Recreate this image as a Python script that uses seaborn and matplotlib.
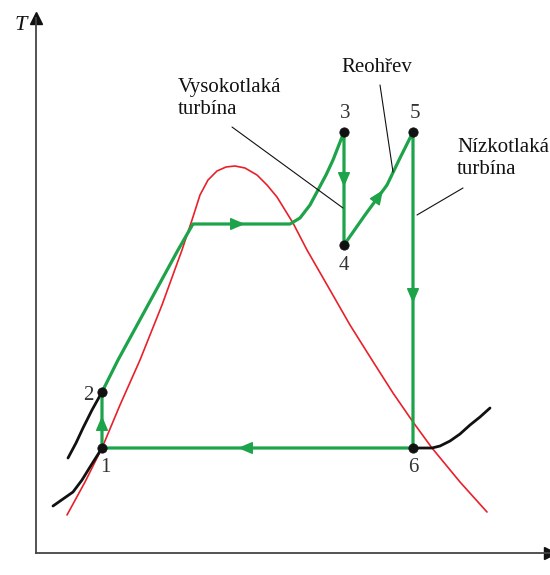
import numpy as np
import pandas as pd
import matplotlib.pyplot as plt
import seaborn as sns

# T-s diagram of a Rankine cycle with reheat (units)
dome_s = [31, 49, 66, 84, 104, 126, 146, 156, 164, 172, 181, 190, 199, 209,
          221, 231, 241, 257, 271, 294, 314, 336, 357, 377, 396, 424, 451]
dome_T = [38, 71, 105, 148, 193, 248, 303, 333, 358, 373, 382, 386, 387, 385,
          378, 368, 356, 330, 303, 263, 228, 193, 160, 131, 105, 71, 41]

cycle_s = [66, 66, 82, 112, 142, 157, 254, 264, 274, 282, 290, 297, 308,
           308, 329, 351, 364, 377, 377, 66]
cycle_T = [105, 161, 193, 248, 303, 329, 329, 335, 348, 363, 378, 393, 421,
           308, 338, 368, 395, 421, 105, 105]

isobar_low_s = [17, 27, 37, 46, 54, 66]
isobar_low_T = [47, 54, 61, 73, 86, 105]
isobar_high_s = [32, 40, 47, 56, 66]
isobar_high_T = [95, 110, 125, 143, 161]
isobar_right_s = [377, 396, 404, 414, 424, 434, 444, 454]
isobar_right_T = [105, 105, 107, 112, 119, 128, 136, 145]

state_labels = ["1", "2", "3", "4", "5", "6"]
state_s = [66, 66, 308, 308, 377, 377]
state_T = [105, 161, 421, 308, 421, 105]
label_s = [69, 52, 309, 308, 379, 377]
label_T = [86, 158, 439, 287, 439, 86]

GREEN = "#1DA34A"
RED = "#E8202A"
INK = "#111111"

sns.set_style("white")
fig = plt.figure(figsize=(5.5, 5.75), dpi=100)
ax = fig.add_axes([36 / 550, 22 / 575, 514 / 550, 535 / 575])
ax.set_xlim(0, 514)
ax.set_ylim(0, 535)

# saturation dome
sns.lineplot(x=dome_s, y=dome_T, sort=False, estimator=None, color=RED,
             lw=1.2, ax=ax)
# pressure lines in the liquid / mixture region
for xs, ys in [(isobar_low_s, isobar_low_T), (isobar_high_s, isobar_high_T),
               (isobar_right_s, isobar_right_T)]:
    sns.lineplot(x=xs, y=ys, sort=False, estimator=None, color=INK, lw=2,
                 ax=ax)
# cycle
sns.lineplot(x=cycle_s, y=cycle_T, sort=False, estimator=None, color=GREEN,
             lw=2.3, ax=ax)

# direction arrows
arrows = [((66, 120), (66, 137)), ((195, 329), (209, 329)),
          ((308, 380), (308, 366)), ((338, 350), (347, 363)),
          ((377, 264), (377, 250)), ((216, 105), (202, 105))]
for start, tip in arrows:
    ax.annotate("", xy=tip, xytext=start,
                arrowprops=dict(arrowstyle="-|>,head_length=0.75,head_width=0.32",
                                color=GREEN, lw=1, mutation_scale=12,
                                shrinkA=0, shrinkB=0))

sns.scatterplot(x=state_s, y=state_T, color=INK, s=45, edgecolor=INK,
                zorder=5, ax=ax, legend=False)

serif = "Liberation Serif"
for lab, xs, ys in zip(state_labels, label_s, label_T):
    ax.text(xs, ys, lab, ha="center", va="center", fontsize=15,
            family=serif, color="#333333")

# callouts
ax.plot([196, 307], [426, 345], color=INK, lw=0.8)
ax.plot([344, 357], [468, 381], color=INK, lw=0.8)
ax.plot([427, 381], [365, 338], color=INK, lw=0.8)
ax.text(142, 475, "Vysokotlaká\nturbína", ha="left", va="top", fontsize=15,
        family=serif, color=INK, linespacing=1.25)
ax.text(341, 485, "Reohřev", ha="center", va="center", fontsize=15,
        family=serif, color=INK)
ax.text(421, 415, "Nízkotlaká\nturbína", ha="left", va="top", fontsize=15,
        family=serif, color=INK, linespacing=1.25, clip_on=False)

# axes with arrowheads
for side in ["top", "right"]:
    ax.spines[side].set_visible(False)
for side in ["left", "bottom"]:
    ax.spines[side].set_color("#444444")
    ax.spines[side].set_linewidth(1.3)
ax.set_xticks([])
ax.set_yticks([])
ax.plot(0, 535, marker="^", color=INK, markersize=8, clip_on=False)
ax.plot(514, 0, marker=">", color=INK, markersize=8, clip_on=False)
ax.text(-15, 528, "T", ha="center", va="center", fontsize=16,
        family=serif, style="italic", color=INK)

fig.savefig("out.png", dpi=100)
